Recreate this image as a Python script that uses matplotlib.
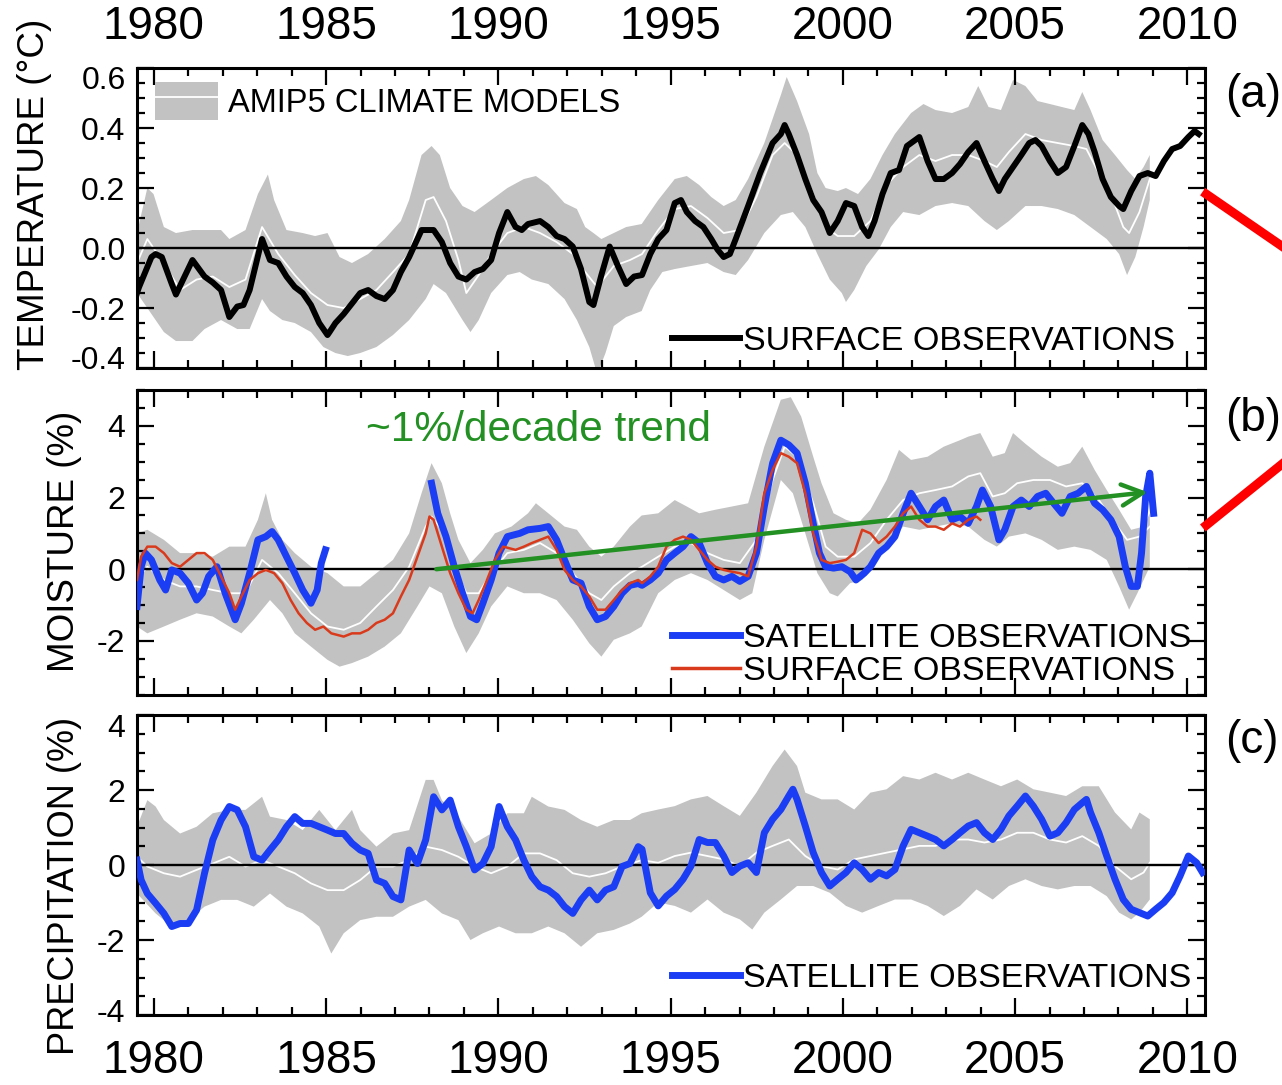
# Temperature, moisture and precipitation anomalies: AMIP5 models vs observations
import matplotlib
matplotlib.use('Agg')
import matplotlib.pyplot as plt
from matplotlib.lines import Line2D
from matplotlib.patches import Patch
from matplotlib.ticker import MultipleLocator, FormatStrFormatter
from matplotlib.transforms import ScaledTranslation
import numpy as np

plt.rcParams['font.family'] = ['Liberation Sans', 'DejaVu Sans']
plt.rcParams['axes.unicode_minus'] = False

# ---------------- data (decimal year, anomaly) ----------------
# (a) temperature, deg C
temp_obs = [(1979.51, -0.15), (1979.57, -0.13), (1979.93, -0.03), (1980.05, -0.02), (1980.23, -0.03),
            (1980.52, -0.12), (1980.64, -0.155), (1981.12, -0.04), (1981.47, -0.095), (1981.71, -0.115),
            (1981.95, -0.14), (1982.19, -0.23), (1982.42, -0.195), (1982.60, -0.19), (1982.78, -0.14),
            (1983.14, 0.03), (1983.37, -0.04), (1983.61, -0.05), (1983.85, -0.095), (1984.09, -0.13),
            (1984.32, -0.15), (1984.56, -0.19), (1984.80, -0.25), (1985.04, -0.29), (1985.10, -0.28),
            (1985.27, -0.25), (1985.51, -0.22), (1985.75, -0.185), (1985.99, -0.15), (1986.22, -0.14),
            (1986.46, -0.16), (1986.70, -0.17), (1986.94, -0.14), (1987.17, -0.08), (1987.41, -0.03),
            (1987.65, 0.03), (1987.77, 0.06), (1988.12, 0.06), (1988.36, 0.02), (1988.60, -0.05),
            (1988.84, -0.095), (1989.07, -0.105), (1989.31, -0.08), (1989.55, -0.07), (1989.79, -0.04),
            (1990.02, 0.05), (1990.26, 0.12), (1990.50, 0.07), (1990.68, 0.06), (1990.86, 0.08),
            (1991.21, 0.09), (1991.45, 0.07), (1991.69, 0.04), (1991.92, 0.03), (1992.16, 0.005),
            (1992.40, -0.07), (1992.64, -0.18), (1992.76, -0.19), (1992.99, -0.09), (1993.23, 0.005),
            (1993.47, -0.06), (1993.71, -0.12), (1993.94, -0.095), (1994.17, -0.09), (1994.41, -0.02),
            (1994.64, 0.03), (1994.88, 0.06), (1995.12, 0.15), (1995.30, 0.16), (1995.47, 0.12),
            (1995.71, 0.09), (1995.95, 0.07), (1996.18, 0.03), (1996.36, -0.005), (1996.54, -0.03),
            (1996.72, -0.02), (1996.89, 0.03), (1997.25, 0.14), (1997.60, 0.25), (1997.96, 0.35),
            (1998.20, 0.38), (1998.31, 0.41), (1998.43, 0.38), (1998.67, 0.31), (1998.91, 0.23),
            (1999.14, 0.16), (1999.38, 0.12), (1999.62, 0.05), (1999.85, 0.09), (2000.09, 0.15),
            (2000.33, 0.14), (2000.56, 0.07), (2000.74, 0.04), (2000.92, 0.09), (2001.15, 0.18),
            (2001.39, 0.25), (2001.63, 0.26), (2001.86, 0.34), (2002.10, 0.36), (2002.22, 0.37),
            (2002.46, 0.29), (2002.69, 0.23), (2002.93, 0.23), (2003.17, 0.25), (2003.40, 0.28),
            (2003.64, 0.32), (2003.88, 0.35), (2004.11, 0.29), (2004.35, 0.23), (2004.53, 0.19),
            (2004.70, 0.23), (2004.94, 0.27), (2005.18, 0.31), (2005.41, 0.35), (2005.59, 0.36),
            (2005.77, 0.34), (2006.01, 0.29), (2006.24, 0.25), (2006.48, 0.27), (2006.72, 0.34),
            (2006.95, 0.41), (2007.13, 0.38), (2007.31, 0.32), (2007.54, 0.23), (2007.78, 0.17),
            (2008.02, 0.14), (2008.14, 0.13), (2008.37, 0.19), (2008.61, 0.24), (2008.85, 0.25),
            (2009.08, 0.24), (2009.32, 0.29), (2009.56, 0.33), (2009.79, 0.34), (2010.03, 0.37),
            (2010.21, 0.39), (2010.33, 0.38)]

temp_mod_hi = [(1979.51, 0.05), (1979.81, 0.20), (1979.99, 0.18), (1980.29, 0.07), (1980.64, 0.05),
               (1981.12, 0.06), (1981.71, 0.06), (1981.95, 0.06), (1982.19, 0.03), (1982.66, 0.06),
               (1983.02, 0.18), (1983.31, 0.245), (1983.49, 0.16), (1983.85, 0.06), (1984.32, 0.05),
               (1984.68, 0.04), (1985.04, 0.05), (1985.39, -0.03), (1985.75, -0.05), (1986.22, -0.02),
               (1986.70, 0.03), (1987.17, 0.09), (1987.41, 0.16), (1987.77, 0.31), (1988.06, 0.34),
               (1988.30, 0.31), (1988.60, 0.20), (1988.96, 0.14), (1989.31, 0.12), (1989.79, 0.16),
               (1990.26, 0.20), (1990.74, 0.23), (1991.09, 0.24), (1991.45, 0.21), (1991.92, 0.15),
               (1992.28, 0.13), (1992.52, 0.07), (1992.76, 0.05), (1992.99, 0.03), (1993.35, 0.05),
               (1993.71, 0.07), (1994.16, 0.08), (1994.64, 0.16), (1995.12, 0.23), (1995.47, 0.24),
               (1995.83, 0.21), (1996.18, 0.17), (1996.54, 0.14), (1996.89, 0.16), (1997.25, 0.23),
               (1997.72, 0.35), (1998.20, 0.51), (1998.37, 0.57), (1998.67, 0.49), (1999.02, 0.38),
               (1999.26, 0.25), (1999.50, 0.20), (1999.85, 0.19), (2000.09, 0.20), (2000.44, 0.18),
               (2000.80, 0.23), (2001.15, 0.31), (2001.51, 0.38), (2001.98, 0.45), (2002.34, 0.48),
               (2002.69, 0.46), (2003.17, 0.45), (2003.64, 0.47), (2003.93, 0.54), (2004.23, 0.47),
               (2004.59, 0.46), (2004.94, 0.56), (2005.30, 0.54), (2005.65, 0.49), (2006.01, 0.48),
               (2006.36, 0.47), (2006.72, 0.46), (2006.95, 0.52), (2007.19, 0.46), (2007.54, 0.36),
               (2007.90, 0.31), (2008.25, 0.26), (2008.49, 0.23), (2008.73, 0.27), (2008.91, 0.31)]

temp_mod_lo = [(1979.51, -0.15), (1979.81, -0.20), (1980.29, -0.28), (1980.64, -0.31), (1981.12, -0.31),
               (1981.47, -0.27), (1981.95, -0.24), (1982.42, -0.27), (1982.78, -0.27), (1983.14, -0.17),
               (1983.37, -0.21), (1983.73, -0.24), (1984.09, -0.25), (1984.56, -0.28), (1984.92, -0.33),
               (1985.27, -0.35), (1985.63, -0.36), (1985.99, -0.35), (1986.46, -0.33), (1986.94, -0.29),
               (1987.41, -0.24), (1987.89, -0.17), (1988.12, -0.12), (1988.48, -0.15), (1988.96, -0.24),
               (1989.19, -0.28), (1989.43, -0.24), (1989.79, -0.15), (1990.26, -0.09), (1990.62, -0.08),
               (1990.97, -0.105), (1991.45, -0.12), (1991.92, -0.17), (1992.28, -0.24), (1992.64, -0.33),
               (1992.87, -0.42), (1993.11, -0.35), (1993.35, -0.26), (1993.71, -0.23), (1994.16, -0.21),
               (1994.41, -0.14), (1994.76, -0.08), (1995.12, -0.07), (1995.59, -0.06), (1996.07, -0.05),
               (1996.54, -0.08), (1996.89, -0.09), (1997.25, -0.04), (1997.72, 0.05), (1998.20, 0.11),
               (1998.55, 0.12), (1998.91, 0.07), (1999.26, -0.02), (1999.62, -0.105), (1999.97, -0.15),
               (2000.09, -0.18), (2000.33, -0.14), (2000.68, -0.06), (2001.04, -0.005), (2001.39, 0.07),
               (2001.75, 0.12), (2002.22, 0.11), (2002.69, 0.14), (2003.17, 0.15), (2003.64, 0.14),
               (2004.11, 0.09), (2004.47, 0.06), (2004.82, 0.09), (2005.30, 0.14), (2005.77, 0.14),
               (2006.24, 0.13), (2006.72, 0.11), (2007.19, 0.07), (2007.66, 0.03), (2008.02, -0.02),
               (2008.25, -0.09), (2008.49, -0.03), (2008.73, 0.07), (2008.91, 0.16)]

temp_mod_mean = [(1979.51, -0.05), (1979.81, 0.03), (1980.29, -0.05), (1980.76, -0.14), (1981.24, -0.105),
                 (1981.71, -0.095), (1982.19, -0.13), (1982.66, -0.105), (1983.14, 0.07), (1983.61, -0.02),
                 (1984.09, -0.09), (1984.56, -0.15), (1985.04, -0.19), (1985.51, -0.20), (1985.99, -0.17),
                 (1986.46, -0.14), (1986.94, -0.08), (1987.41, -0.02), (1987.89, 0.16), (1988.12, 0.17),
                 (1988.48, 0.09), (1988.84, -0.04), (1989.07, -0.15), (1989.43, -0.09), (1989.79, -0.02),
                 (1990.26, 0.05), (1990.74, 0.07), (1991.21, 0.05), (1991.69, 0.02), (1992.16, -0.02),
                 (1992.52, -0.08), (1992.87, -0.13), (1993.35, -0.06), (1993.82, -0.04), (1994.17, -0.02),
                 (1994.64, 0.06), (1995.12, 0.13), (1995.59, 0.14), (1996.07, 0.10), (1996.54, 0.05),
                 (1997.01, 0.06), (1997.49, 0.17), (1997.96, 0.31), (1998.31, 0.35), (1998.67, 0.31),
                 (1999.14, 0.18), (1999.50, 0.07), (1999.85, 0.04), (2000.33, 0.04), (2000.80, 0.09),
                 (2001.27, 0.21), (2001.75, 0.27), (2002.22, 0.31), (2002.69, 0.29), (2003.17, 0.31),
                 (2003.64, 0.31), (2004.11, 0.29), (2004.47, 0.27), (2004.82, 0.32), (2005.30, 0.38),
                 (2005.77, 0.36), (2006.24, 0.35), (2006.72, 0.34), (2007.07, 0.33), (2007.43, 0.25),
                 (2007.78, 0.18), (2008.14, 0.07), (2008.31, 0.05), (2008.61, 0.12), (2008.91, 0.23)]

# (b) moisture, %
moist_sat_early = [(1979.51, -1.04), (1979.63, 0.07), (1979.75, 0.45), (1979.93, 0.26), (1980.17, -0.30),
                   (1980.34, -0.58), (1980.52, -0.02), (1980.76, -0.11), (1981.00, -0.39), (1981.24, -0.86),
                   (1981.41, -0.67), (1981.59, -0.20), (1981.83, 0.07), (1982.07, -0.67), (1982.36, -1.41),
                   (1982.54, -0.95), (1982.78, -0.11), (1983.02, 0.82), (1983.25, 0.91), (1983.43, 1.05),
                   (1983.61, 0.82), (1983.85, 0.35), (1984.09, -0.11), (1984.32, -0.58), (1984.56, -0.95),
                   (1984.74, -0.58), (1984.86, 0.17), (1984.98, 0.54)]

moist_sat = [(1988.06, 2.40), (1988.24, 1.56), (1988.48, 0.91), (1988.72, 0.07), (1988.96, -0.67),
             (1989.19, -1.32), (1989.37, -1.41), (1989.55, -0.95), (1989.79, -0.30), (1990.02, 0.45),
             (1990.26, 0.91), (1990.62, 1.00), (1990.86, 1.10), (1991.21, 1.14), (1991.45, 1.19),
             (1991.69, 0.82), (1991.92, 0.26), (1992.16, -0.30), (1992.40, -0.39), (1992.64, -1.04),
             (1992.87, -1.41), (1993.11, -1.32), (1993.35, -1.04), (1993.59, -0.67), (1993.82, -0.45),
             (1994.06, -0.40), (1994.17, -0.45), (1994.41, -0.30), (1994.64, -0.11), (1994.88, 0.26),
             (1995.12, 0.45), (1995.36, 0.63), (1995.59, 0.91), (1995.83, 0.73), (1996.07, 0.17),
             (1996.30, -0.20), (1996.54, -0.30), (1996.78, -0.20), (1997.01, -0.34), (1997.25, -0.20),
             (1997.49, 0.45), (1997.72, 1.75), (1997.96, 2.96), (1998.20, 3.60), (1998.43, 3.47),
             (1998.67, 3.24), (1998.91, 2.40), (1999.14, 1.28), (1999.32, 0.45), (1999.50, 0.07),
             (1999.73, 0.03), (1999.97, 0.07), (2000.21, -0.07), (2000.38, -0.30), (2000.62, -0.11),
             (2000.80, 0.07), (2001.04, 0.45), (2001.27, 0.63), (2001.51, 0.91), (2001.75, 1.56),
             (2001.98, 2.12), (2002.22, 1.75), (2002.46, 1.38), (2002.69, 1.75), (2002.93, 1.93),
             (2003.17, 1.38), (2003.40, 1.47), (2003.64, 1.28), (2003.88, 1.75), (2004.05, 2.21),
             (2004.29, 1.75), (2004.53, 0.82), (2004.70, 1.10), (2004.94, 1.75), (2005.18, 1.93),
             (2005.41, 1.75), (2005.65, 2.03), (2005.89, 2.12), (2006.12, 1.84), (2006.36, 1.56),
             (2006.60, 2.03), (2006.83, 2.12), (2007.07, 2.31), (2007.31, 1.84), (2007.54, 1.66),
             (2007.78, 1.38), (2008.02, 0.91), (2008.20, 0.07), (2008.37, -0.48), (2008.55, -0.48),
             (2008.67, 0.45), (2008.79, 2.03), (2008.91, 2.68), (2009.02, 1.56)]

moist_sfc = [(1979.51, -0.30), (1979.63, 0.35), (1979.81, 0.63), (1980.05, 0.63), (1980.29, 0.45),
             (1980.52, 0.17), (1980.76, 0.07), (1981.00, 0.26), (1981.24, 0.45), (1981.47, 0.45),
             (1981.71, 0.26), (1981.95, -0.20), (1982.19, -0.67), (1982.36, -1.13), (1982.54, -0.76),
             (1982.78, -0.30), (1983.02, -0.11), (1983.25, -0.02), (1983.49, -0.11), (1983.73, -0.39),
             (1983.97, -0.86), (1984.20, -1.23), (1984.44, -1.50), (1984.68, -1.69), (1984.92, -1.60),
             (1985.15, -1.79), (1985.51, -1.88), (1985.75, -1.79), (1985.99, -1.79), (1986.22, -1.69),
             (1986.46, -1.50), (1986.70, -1.41), (1986.94, -1.23), (1987.17, -0.76), (1987.41, -0.30),
             (1987.65, 0.35), (1987.89, 1.00), (1988.00, 1.47), (1988.12, 1.38), (1988.36, 0.63),
             (1988.60, -0.11), (1988.84, -0.67), (1989.07, -1.13), (1989.25, -1.23), (1989.43, -0.86),
             (1989.67, -0.30), (1989.90, 0.26), (1990.14, 0.63), (1990.50, 0.54), (1990.74, 0.63),
             (1990.97, 0.73), (1991.21, 0.82), (1991.45, 0.91), (1991.69, 0.54), (1991.92, -0.02),
             (1992.16, -0.30), (1992.40, -0.48), (1992.64, -0.76), (1992.87, -1.13), (1993.11, -1.13),
             (1993.35, -0.86), (1993.59, -0.58), (1993.82, -0.39), (1994.06, -0.30), (1994.17, -0.39),
             (1994.41, -0.20), (1994.64, 0.07), (1994.88, 0.63), (1995.12, 0.82), (1995.36, 0.91),
             (1995.59, 0.82), (1995.83, 0.54), (1996.07, 0.26), (1996.30, 0.07), (1996.54, -0.02),
             (1996.78, -0.07), (1997.01, -0.11), (1997.25, -0.20), (1997.49, 0.63), (1997.72, 2.12),
             (1997.96, 2.77), (1998.20, 3.24), (1998.43, 3.14), (1998.67, 2.96), (1998.91, 2.12),
             (1999.14, 1.00), (1999.38, 0.26), (1999.62, 0.17), (1999.85, 0.21), (2000.09, 0.26),
             (2000.33, 0.45), (2000.56, 1.10), (2000.80, 1.00), (2001.04, 0.73), (2001.27, 0.91),
             (2001.51, 1.19), (2001.75, 1.56), (2001.98, 1.75), (2002.22, 1.38), (2002.46, 1.19),
             (2002.69, 1.19), (2002.93, 1.10), (2003.17, 1.28), (2003.40, 1.19), (2003.64, 1.38),
             (2003.88, 1.47), (2003.99, 1.38)]

moist_mod_hi = [(1979.51, 1.00), (1979.81, 1.10), (1980.29, 0.82), (1980.76, 0.45), (1981.24, 0.45),
                (1981.71, 0.35), (1982.19, 0.63), (1982.66, 0.63), (1983.02, 1.38), (1983.25, 2.12),
                (1983.43, 1.38), (1983.73, 0.82), (1984.09, 0.45), (1984.56, 0.07), (1985.04, -0.11),
                (1985.51, -0.48), (1985.99, -0.48), (1986.46, -0.11), (1986.94, 0.26), (1987.41, 1.00),
                (1987.77, 2.12), (1988.06, 2.96), (1988.36, 2.40), (1988.60, 1.56), (1988.84, 0.82),
                (1989.19, 0.17), (1989.55, 0.54), (1989.90, 1.00), (1990.38, 1.19), (1990.86, 1.56),
                (1991.09, 1.84), (1991.45, 1.56), (1991.92, 1.19), (1992.28, 1.10), (1992.64, 0.63),
                (1992.99, 0.35), (1993.35, 0.63), (1993.82, 1.19), (1994.16, 1.50), (1994.64, 1.56),
                (1995.12, 1.93), (1995.47, 1.75), (1995.83, 1.56), (1996.30, 1.66), (1996.78, 1.75),
                (1997.25, 1.84), (1997.72, 3.42), (1998.20, 4.73), (1998.49, 4.80), (1998.79, 4.26),
                (1999.14, 3.14), (1999.38, 2.40), (1999.73, 1.56), (2000.09, 1.38), (2000.44, 1.28),
                (2000.80, 1.66), (2001.27, 2.49), (2001.63, 3.33), (2001.98, 3.05), (2002.46, 3.14),
                (2002.93, 3.42), (2003.40, 3.60), (2003.64, 3.70), (2003.99, 3.80), (2004.35, 3.14),
                (2004.70, 3.24), (2004.94, 3.80), (2005.30, 3.50), (2005.77, 3.14), (2006.24, 2.86),
                (2006.60, 2.96), (2006.95, 3.42), (2007.31, 2.77), (2007.66, 2.21), (2008.02, 1.66),
                (2008.37, 1.10), (2008.73, 1.19), (2008.91, 1.56)]

moist_mod_lo = [(1979.51, -1.60), (1979.81, -1.79), (1980.29, -1.60), (1980.76, -1.41), (1981.24, -1.23),
                (1981.71, -1.32), (1982.19, -1.60), (1982.54, -1.79), (1982.90, -1.41), (1983.37, -0.86),
                (1983.73, -1.23), (1984.09, -1.79), (1984.56, -2.16), (1985.04, -2.53), (1985.39, -2.72),
                (1985.75, -2.62), (1986.22, -2.44), (1986.70, -2.16), (1987.17, -1.79), (1987.65, -1.04),
                (1988.00, -0.48), (1988.36, -0.67), (1988.72, -1.60), (1989.07, -2.34), (1989.43, -1.79),
                (1989.79, -1.04), (1990.26, -0.48), (1990.74, -0.67), (1991.21, -0.67), (1991.69, -0.86),
                (1992.16, -1.41), (1992.64, -2.07), (1992.99, -2.44), (1993.35, -1.97), (1993.82, -1.79),
                (1994.16, -1.60), (1994.64, -0.67), (1995.12, -0.30), (1995.59, -0.11), (1996.07, -0.30),
                (1996.54, -0.58), (1997.01, -0.86), (1997.37, -0.67), (1997.72, 0.82), (1998.20, 2.49),
                (1998.55, 2.12), (1998.91, 1.00), (1999.26, -0.11), (1999.62, -0.67), (1999.85, -0.76),
                (2000.21, -0.39), (2000.56, -0.30), (2000.92, 0.07), (2001.27, 0.63), (2001.75, 1.19),
                (2002.22, 1.10), (2002.69, 1.19), (2003.17, 1.28), (2003.64, 1.19), (2004.11, 0.82),
                (2004.47, 0.63), (2004.82, 0.91), (2005.30, 1.00), (2005.77, 0.82), (2006.24, 0.54),
                (2006.72, 0.63), (2007.19, 0.54), (2007.66, 0.26), (2008.02, -0.48), (2008.31, -1.13),
                (2008.55, -0.67), (2008.91, 0.07)]

moist_mod_mean = [(1979.51, -0.30), (1979.81, 0.07), (1980.29, -0.30), (1980.76, -0.48), (1981.24, -0.48),
                  (1981.71, -0.58), (1982.19, -0.67), (1982.66, -0.67), (1983.14, 0.26), (1983.61, -0.11),
                  (1984.09, -0.67), (1984.56, -1.23), (1985.04, -1.60), (1985.51, -1.69), (1985.99, -1.50),
                  (1986.46, -1.04), (1986.94, -0.58), (1987.41, 0.07), (1987.89, 1.19), (1988.06, 1.47),
                  (1988.36, 1.10), (1988.72, 0.07), (1989.07, -0.67), (1989.43, -0.67), (1989.79, -0.11),
                  (1990.26, 0.45), (1990.74, 0.54), (1991.21, 0.73), (1991.69, 0.45), (1992.16, -0.11),
                  (1992.64, -0.67), (1992.99, -0.86), (1993.35, -0.48), (1993.82, -0.11), (1994.17, 0.07),
                  (1994.64, 0.35), (1995.12, 0.63), (1995.59, 0.73), (1996.07, 0.45), (1996.54, 0.26),
                  (1997.01, 0.17), (1997.49, 0.82), (1997.96, 2.49), (1998.31, 3.42), (1998.67, 3.14),
                  (1999.14, 1.84), (1999.50, 0.63), (1999.85, 0.35), (2000.33, 0.35), (2000.80, 0.73),
                  (2001.27, 1.38), (2001.75, 1.93), (2002.22, 2.12), (2002.69, 2.21), (2003.17, 2.31),
                  (2003.64, 2.59), (2003.99, 2.68), (2004.35, 2.03), (2004.70, 2.12), (2005.06, 2.40),
                  (2005.53, 2.49), (2006.01, 2.49), (2006.48, 2.31), (2006.95, 2.40), (2007.43, 1.93),
                  (2007.90, 1.28), (2008.25, 0.82), (2008.61, 0.91), (2008.91, 1.19)]

# ~1%/decade trend arrow (year, %)
trend_start = (1988.2, 0.0)
trend_end = (2008.85, 2.15)

# (c) precipitation, %
precip_sat = [(1979.51, 0.13), (1979.63, -0.40), (1979.81, -0.76), (1980.05, -1.02), (1980.29, -1.29),
              (1980.52, -1.64), (1980.76, -1.56), (1981.00, -1.56), (1981.24, -1.20), (1981.47, -0.22),
              (1981.71, 0.67), (1981.95, 1.20), (1982.19, 1.56), (1982.42, 1.47), (1982.66, 1.02),
              (1982.90, 0.22), (1983.14, 0.13), (1983.37, 0.40), (1983.61, 0.67), (1983.85, 1.02),
              (1984.09, 1.29), (1984.32, 1.11), (1984.56, 1.11), (1984.80, 1.02), (1985.04, 0.93),
              (1985.27, 0.84), (1985.51, 0.84), (1985.75, 0.58), (1985.99, 0.40), (1986.22, 0.31),
              (1986.46, -0.40), (1986.70, -0.49), (1986.94, -0.84), (1987.17, -0.93), (1987.41, 0.40),
              (1987.65, 0.04), (1987.89, 0.67), (1988.12, 1.82), (1988.36, 1.47), (1988.60, 1.73),
              (1988.84, 1.02), (1989.07, 0.49), (1989.31, -0.13), (1989.55, 0.04), (1989.79, 0.49),
              (1990.02, 1.56), (1990.26, 1.02), (1990.50, 0.67), (1990.74, 0.13), (1990.97, -0.31),
              (1991.21, -0.58), (1991.45, -0.67), (1991.69, -0.84), (1991.92, -1.11), (1992.16, -1.29),
              (1992.40, -0.93), (1992.64, -0.67), (1992.87, -0.93), (1993.11, -0.67), (1993.35, -0.58),
              (1993.59, -0.04), (1993.82, 0.04), (1994.06, 0.49), (1994.17, 0.42), (1994.41, -0.74),
              (1994.64, -1.09), (1994.88, -0.83), (1995.12, -0.65), (1995.36, -0.38), (1995.59, -0.03),
              (1995.83, 0.68), (1996.07, 0.60), (1996.30, 0.60), (1996.54, 0.24), (1996.78, -0.20),
              (1997.01, -0.03), (1997.25, 0.06), (1997.49, -0.20), (1997.72, 0.86), (1997.96, 1.22),
              (1998.20, 1.48), (1998.43, 1.84), (1998.55, 2.02), (1998.67, 1.75), (1998.91, 1.04),
              (1999.14, 0.33), (1999.38, -0.20), (1999.62, -0.56), (1999.85, -0.38), (2000.09, -0.20),
              (2000.33, 0.06), (2000.56, -0.12), (2000.80, -0.38), (2001.04, -0.20), (2001.27, -0.29),
              (2001.51, -0.12), (2001.75, 0.51), (2001.98, 0.95), (2002.22, 0.86), (2002.46, 0.77),
              (2002.69, 0.68), (2002.93, 0.51), (2003.17, 0.68), (2003.40, 0.86), (2003.64, 1.04),
              (2003.88, 1.13), (2004.11, 0.86), (2004.35, 0.68), (2004.59, 0.95), (2004.82, 1.31),
              (2005.06, 1.57), (2005.30, 1.84), (2005.53, 1.57), (2005.77, 1.22), (2006.01, 0.77),
              (2006.24, 0.86), (2006.48, 1.13), (2006.72, 1.48), (2006.95, 1.66), (2007.07, 1.75),
              (2007.19, 1.40), (2007.43, 0.86), (2007.66, 0.24), (2007.90, -0.38), (2008.14, -0.92),
              (2008.37, -1.18), (2008.61, -1.27), (2008.85, -1.36), (2009.08, -1.18), (2009.32, -1.00),
              (2009.56, -0.74), (2009.79, -0.29), (2010.03, 0.24), (2010.27, 0.06), (2010.44, -0.20)]

precip_mod_hi = [(1979.51, 1.02), (1979.81, 1.73), (1980.05, 1.56), (1980.29, 1.20), (1980.76, 0.84),
                 (1981.24, 1.02), (1981.71, 1.38), (1982.19, 1.47), (1982.66, 1.47), (1983.14, 1.82),
                 (1983.37, 1.29), (1983.85, 1.20), (1984.32, 0.93), (1984.80, 1.47), (1985.27, 0.93),
                 (1985.75, 1.47), (1985.99, 0.93), (1986.46, 0.49), (1986.94, 0.84), (1987.41, 0.93),
                 (1987.89, 2.27), (1988.12, 2.27), (1988.36, 1.73), (1988.84, 1.29), (1989.31, 0.58),
                 (1989.79, 0.84), (1990.26, 1.38), (1990.74, 1.38), (1990.97, 1.82), (1991.45, 1.56),
                 (1991.92, 1.47), (1992.40, 1.20), (1992.87, 1.02), (1993.35, 1.20), (1993.82, 1.20),
                 (1994.16, 1.38), (1994.64, 1.48), (1995.12, 1.57), (1995.59, 1.75), (1996.07, 1.84),
                 (1996.54, 1.57), (1997.01, 1.31), (1997.49, 1.93), (1997.96, 2.64), (1998.31, 3.08),
                 (1998.67, 2.64), (1998.91, 1.93), (1999.38, 1.75), (1999.85, 1.75), (2000.33, 1.48),
                 (2000.80, 1.93), (2001.27, 2.02), (2001.75, 2.37), (2002.22, 2.28), (2002.69, 2.46),
                 (2003.17, 2.28), (2003.64, 2.46), (2004.11, 2.28), (2004.59, 2.10), (2005.06, 2.28),
                 (2005.53, 2.02), (2006.01, 1.93), (2006.48, 1.84), (2006.95, 2.10), (2007.43, 2.10),
                 (2007.90, 1.40), (2008.37, 0.95), (2008.61, 1.40), (2008.91, 1.22)]

precip_mod_lo = [(1979.51, -0.76), (1980.05, -1.29), (1980.52, -1.64), (1981.00, -1.47), (1981.47, -1.11),
                 (1981.95, -0.93), (1982.42, -0.93), (1982.90, -1.11), (1983.37, -0.76), (1983.85, -1.11),
                 (1984.32, -1.29), (1984.80, -1.64), (1985.15, -2.36), (1985.51, -1.82), (1985.99, -1.47),
                 (1986.46, -1.38), (1986.94, -1.38), (1987.41, -1.11), (1987.89, -0.93), (1988.36, -1.29),
                 (1988.84, -1.47), (1989.19, -2.00), (1989.55, -1.82), (1990.02, -1.64), (1990.50, -1.82),
                 (1990.97, -1.82), (1991.45, -1.64), (1991.92, -1.82), (1992.40, -2.18), (1992.87, -1.82),
                 (1993.35, -1.73), (1993.82, -1.56), (1994.16, -1.38), (1994.64, -1.00), (1995.12, -1.09),
                 (1995.59, -1.27), (1996.07, -0.92), (1996.54, -1.27), (1997.01, -1.45), (1997.37, -1.72),
                 (1997.72, -1.27), (1998.20, -0.92), (1998.67, -0.56), (1999.14, -0.56), (1999.62, -0.74),
                 (2000.09, -1.09), (2000.56, -1.27), (2001.04, -1.09), (2001.51, -0.92), (2001.98, -0.92),
                 (2002.46, -1.09), (2002.93, -1.36), (2003.40, -1.09), (2003.88, -0.65), (2004.35, -0.92),
                 (2004.82, -0.56), (2005.30, -0.38), (2005.77, -0.56), (2006.24, -0.65), (2006.72, -0.56),
                 (2007.19, -0.56), (2007.66, -0.83), (2008.02, -1.27), (2008.37, -1.45), (2008.61, -1.27),
                 (2008.91, -0.92)]

precip_mod_mean = [(1979.51, 0.22), (1979.81, -0.04), (1980.29, -0.22), (1980.76, -0.31), (1981.24, -0.13),
                   (1981.71, 0.04), (1982.19, 0.22), (1982.66, -0.04), (1983.14, 0.13), (1983.61, -0.04),
                   (1984.09, -0.22), (1984.56, -0.49), (1985.04, -0.67), (1985.51, -0.67), (1985.99, -0.40),
                   (1986.46, -0.04), (1986.94, -0.04), (1987.41, 0.13), (1987.89, 0.49), (1988.36, 0.40),
                   (1988.84, 0.22), (1989.31, -0.04), (1989.79, -0.22), (1990.26, -0.04), (1990.74, 0.31),
                   (1991.21, 0.31), (1991.69, 0.13), (1992.16, -0.22), (1992.64, -0.31), (1993.11, -0.22),
                   (1993.59, -0.04), (1994.16, 0.13), (1994.64, 0.06), (1995.12, 0.24), (1995.59, 0.33),
                   (1996.07, 0.24), (1996.54, 0.15), (1997.01, -0.03), (1997.49, 0.33), (1997.96, 0.51),
                   (1998.43, 0.68), (1998.91, 0.24), (1999.38, -0.03), (1999.85, -0.12), (2000.33, 0.15),
                   (2000.80, 0.24), (2001.27, 0.33), (2001.75, 0.42), (2002.22, 0.51), (2002.69, 0.51),
                   (2003.17, 0.68), (2003.64, 0.68), (2004.11, 0.60), (2004.59, 0.68), (2005.06, 0.86),
                   (2005.53, 0.86), (2006.01, 0.68), (2006.48, 0.60), (2006.95, 0.77), (2007.43, 0.51),
                   (2007.90, -0.03), (2008.37, -0.38), (2008.73, -0.20), (2008.91, 0.06)]

year_ticks = [1980, 1985, 1990, 1995, 2000, 2005, 2010]

# ---------------- styles ----------------
GRAY = '#c2c2c2'
BLUE = '#1b3ef5'
RED = '#d93a1c'
GREEN = '#239023'
XLIM = (1979.5, 2010.5)


def xy(pairs):
    a = np.array(pairs)
    return a[:, 0], a[:, 1]


def model_band(ax, hi, lo, mean):
    hx, hy = xy(hi)
    lx, ly = xy(lo)
    ax.fill(np.r_[hx, lx[::-1]], np.r_[hy, ly[::-1]], color=GRAY, lw=0, zorder=1)
    mx, my = xy(mean)
    ax.plot(mx, my, color='white', lw=1.3, zorder=2)


def style_axis(ax, ylim, yticks, fmt, yminor):
    ax.set_xlim(*XLIM)
    ax.set_ylim(*ylim)
    ax.set_xticks(year_ticks)
    ax.xaxis.set_minor_locator(MultipleLocator(1))
    ax.set_yticks(yticks)
    ax.yaxis.set_major_formatter(FormatStrFormatter(fmt))
    ax.yaxis.set_minor_locator(MultipleLocator(yminor))
    ax.tick_params(which='both', direction='in', top=True, right=True, width=1.6)
    ax.tick_params(which='major', length=12)
    ax.tick_params(which='minor', length=6)
    ax.tick_params(axis='y', labelsize=23, pad=8)
    ax.tick_params(axis='x', labelsize=33)
    for s in ax.spines.values():
        s.set_linewidth(2.2)
    ax.axhline(0, color='k', lw=1.7, zorder=3)


def nudge_end_labels(ax, top_px, bottom_px):
    # labels at the ends of the axis sit inside the frame
    ticks = ax.yaxis.get_major_ticks()
    off_top = ScaledTranslation(0, -top_px / 100, fig.dpi_scale_trans)
    off_bot = ScaledTranslation(0, bottom_px / 100, fig.dpi_scale_trans)
    ticks[0].label1.set_transform(ticks[0].label1.get_transform() + off_bot)
    ticks[-1].label1.set_transform(ticks[-1].label1.get_transform() + off_top)


fig = plt.figure(figsize=(12.82, 10.85), dpi=100)
L, W = 0.1066, 0.833
ax_a = fig.add_axes([L, 0.6608, W, 0.2765])
ax_b = fig.add_axes([L, 0.3598, W, 0.2807])
ax_c = fig.add_axes([L, 0.0645, W, 0.2765])

# (a) temperature
model_band(ax_a, temp_mod_hi, temp_mod_lo, temp_mod_mean)
x, y = xy(temp_obs)
ax_a.plot(x, y, color='black', lw=4.3, zorder=4)
style_axis(ax_a, (-0.4, 0.6), [-0.4, -0.2, 0.0, 0.2, 0.4, 0.6], '%.1f', 0.05)
ax_a.tick_params(axis='x', labeltop=True, labelbottom=False, pad=14)
nudge_end_labels(ax_a, 9, 11)
ax_a.set_ylabel('TEMPERATURE (°C)', fontsize=26.5)
ax_a.yaxis.set_label_coords(-0.079, 0.58)

model_h = (Patch(facecolor=GRAY, edgecolor='none'), Line2D([], [], color='white', lw=1.3))
leg = ax_a.legend([model_h], ['AMIP5 CLIMATE MODELS'], loc='upper left', bbox_to_anchor=(0.017, 0.955),
                  frameon=False, fontsize=23.5, handlelength=1.95, handleheight=1.45, handletextpad=0.3,
                  borderpad=0, borderaxespad=0)
ax_a.add_artist(leg)
ax_a.legend([Line2D([], [], color='black', lw=4.3)], ['SURFACE OBSERVATIONS'], loc='center left',
            bbox_to_anchor=(0.501, 0.09), frameon=False, fontsize=24.5, handlelength=2.0,
            handletextpad=0.1, borderpad=0, borderaxespad=0)
ax_a.text(1.019, 0.91, '(a)', transform=ax_a.transAxes, fontsize=33, va='center', ha='left')

# (b) moisture
model_band(ax_b, moist_mod_hi, moist_mod_lo, moist_mod_mean)
x, y = xy(moist_sat_early)
ax_b.plot(x, y, color=BLUE, lw=5, zorder=4)
x, y = xy(moist_sat)
ax_b.plot(x, y, color=BLUE, lw=5, zorder=4)
x, y = xy(moist_sfc)
ax_b.plot(x, y, color=RED, lw=1.8, zorder=5)
style_axis(ax_b, (-3.5, 5.0), [-2, 0, 2, 4], '%d', 0.5)
ax_b.tick_params(axis='x', labelbottom=False)
ax_b.set_ylabel('MOISTURE (%)', fontsize=26.5)
ax_b.yaxis.set_label_coords(-0.051, 0.504)
ax_b.annotate('', xy=trend_end, xytext=trend_start, zorder=6,
              arrowprops=dict(arrowstyle='->', color=GREEN, lw=3.2, mutation_scale=38, shrinkA=0, shrinkB=0))
ax_b.text(1986.15, 3.89, '~1%/decade trend', color=GREEN, fontsize=30.5, va='center', ha='left')
ax_b.legend([Line2D([], [], color=BLUE, lw=5), Line2D([], [], color=RED, lw=2.5)],
            ['SATELLITE OBSERVATIONS', 'SURFACE OBSERVATIONS'], loc='center left',
            bbox_to_anchor=(0.501, 0.13), frameon=False, fontsize=24.5, handlelength=2.0,
            handletextpad=0.1, labelspacing=0.05, borderpad=0, borderaxespad=0)
ax_b.text(1.019, 0.905, '(b)', transform=ax_b.transAxes, fontsize=33, va='center', ha='left')

# (c) precipitation
model_band(ax_c, precip_mod_hi, precip_mod_lo, precip_mod_mean)
x, y = xy(precip_sat)
ax_c.plot(x, y, color=BLUE, lw=5, zorder=4)
style_axis(ax_c, (-4, 4), [-4, -2, 0, 2, 4], '%d', 0.5)
ax_c.tick_params(axis='x', pad=17)
nudge_end_labels(ax_c, 10, 5)
ax_c.set_ylabel('PRECIPITATION (%)', fontsize=26)
ax_c.yaxis.set_label_coords(-0.051, 0.43)
ax_c.legend([Line2D([], [], color=BLUE, lw=5)], ['SATELLITE OBSERVATIONS'], loc='center left',
            bbox_to_anchor=(0.501, 0.123), frameon=False, fontsize=24.5, handlelength=2.0,
            handletextpad=0.1, borderpad=0, borderaxespad=0)
ax_c.text(1.019, 0.915, '(c)', transform=ax_c.transAxes, fontsize=33, va='center', ha='left')

# red connector strokes running off the right edge
fig.add_artist(Line2D([0.941, 1.005], [0.821, 0.769], color='red', lw=6.5, transform=fig.transFigure))
fig.add_artist(Line2D([0.941, 1.005], [0.516, 0.577], color='red', lw=6.5, transform=fig.transFigure))

fig.savefig('out.png', dpi=100)
